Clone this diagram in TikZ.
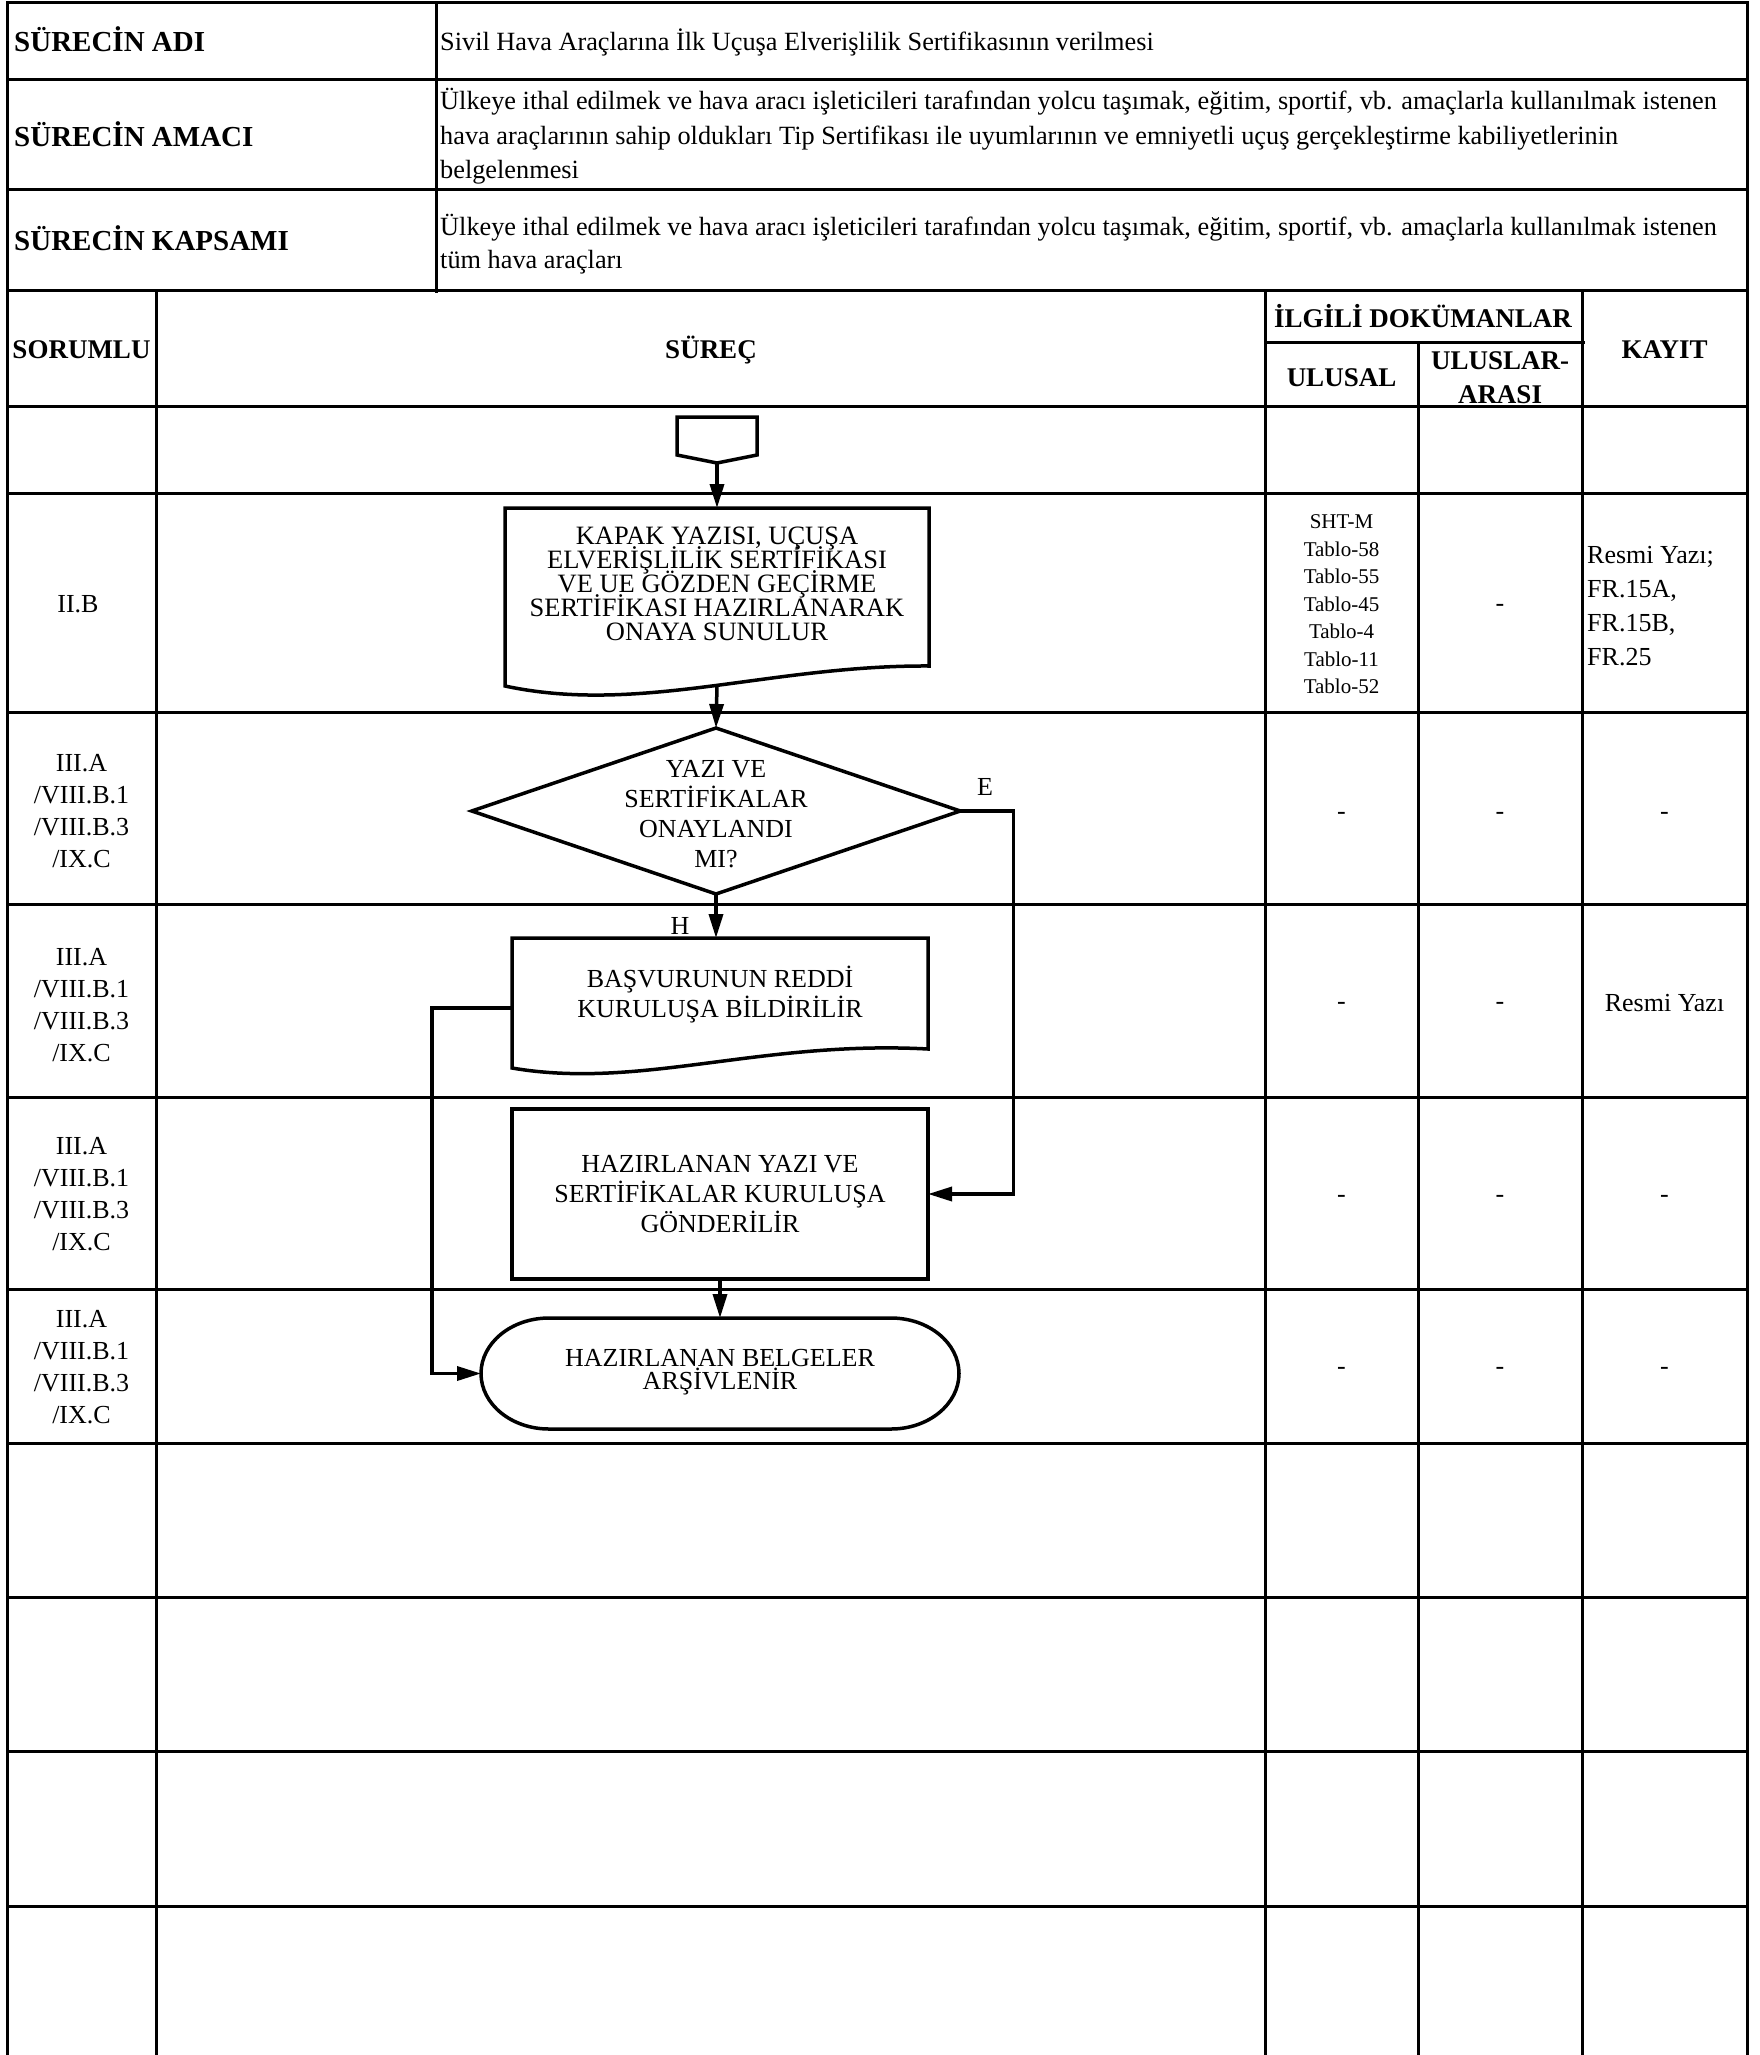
\documentclass[tikz,border=0pt]{standalone}
\usepackage{fontspec}
\setmainfont{Liberation Serif}
\usetikzlibrary{arrows.meta,shapes.geometric}
\begin{document}
\setlength{\lineskiplimit}{-100pt}
\begin{tikzpicture}[x=1pt,y=-1pt,
 grid/.style={line width=3pt},
 flow/.style={line width=3.5pt,line join=miter},
 arr/.style={line width=3.5pt,-{Triangle[length=24pt,width=14pt]}},
 tx/.style={inner sep=0pt,align=center,font=\fontsize{26}{30}\selectfont},
 hd/.style={inner sep=0pt,anchor=base,font=\bfseries\fontsize{27}{33}\selectfont},
 big/.style={inner sep=0pt,anchor=base west,font=\bfseries\fontsize{29}{34}\selectfont},
 body/.style={inner sep=0pt,anchor=base west,font=\fontsize{26.3}{34}\selectfont},
 lab/.style={inner sep=0pt,align=center,font=\fontsize{26}{32}\selectfont},
 bare/.style={inner sep=0pt,outer sep=0pt}]

\useasboundingbox (0,0) rectangle (1760,2055);

% ---- top header texts
\node[big] (hAdi) at (14,52) {SÜRECİN ADI};
\node[big] (hAmac) at (14,146.5) {SÜRECİN AMACI};
\node[big] (hKaps) at (14,250.5) {SÜRECİN KAPSAMI};
\node[body] (tAdi) at (440,51) {Sivil Hava Araçlarına İlk Uçuşa Elverişlilik Sertifikasının verilmesi};
\node[body] (tAm1) at (440,110) {Ülkeye ithal edilmek ve hava aracı işleticileri tarafından yolcu taşımak, eğitim, sportif, vb. amaçlarla kullanılmak istenen};
\node[body] (tAm2) at (440,145) {hava araçlarının sahip oldukları Tip Sertifikası ile uyumlarının ve emniyetli uçuş gerçekleştirme kabiliyetlerinin};
\node[body] (tAm3) at (440,179) {belgelenmesi};
\node[body] (tKa1) at (440,235) {Ülkeye ithal edilmek ve hava aracı işleticileri tarafından yolcu taşımak, eğitim, sportif, vb. amaçlarla kullanılmak istenen};
\node[body] (tKa2) at (440,268) {tüm hava araçları};

% ---- table header
\node[hd] (hSor) at (81.5,358) {SORUMLU};
\node[hd] (hSur) at (711,358) {SÜREÇ};
\node[hd] (hIlg) at (1423,327) {İLGİLİ DOKÜMANLAR};
\node[hd] (hUl) at (1341.5,386) {ULUSAL};
\node[hd] (hUla1) at (1500,369) {ULUSLAR-};
\node[hd] (hUla2) at (1500,403) {ARASI};
\node[hd] (hKay) at (1664.5,358) {KAYIT};

% ---- responsible column
\node[lab] (r1) at (78,604) {II.B};
\node[lab] (r2) at (81.5,811) {III.A\\/VIII.B.1\\/VIII.B.3\\/IX.C};
\node[lab] (r3) at (81.5,1005) {III.A\\/VIII.B.1\\/VIII.B.3\\/IX.C};
\node[lab] (r4) at (81.5,1194) {III.A\\/VIII.B.1\\/VIII.B.3\\/IX.C};
\node[lab] (r5) at (81.5,1367) {III.A\\/VIII.B.1\\/VIII.B.3\\/IX.C};

% ---- documents / records
\node[inner sep=0pt,align=center,font=\fontsize{21}{27.5}\selectfont] (u1) at (1341.5,604.5) {SHT-M\\Tablo-58\\Tablo-55\\Tablo-45\\Tablo-4\\Tablo-11\\Tablo-52};
\node[tx] (i1) at (1500,608) {-};
\node[inner sep=0pt,align=left,anchor=west,font=\fontsize{26}{34}\selectfont] (k1) at (1587,606) {Resmi Yazı;\\FR.15A,\\FR.15B,\\FR.25};

\node[tx] (u2) at (1341.5,816) {-};
\node[tx] (i2) at (1500,816) {-};
\node[tx] (k2) at (1664.5,816) {-};
\node[tx] (u3) at (1341.5,1006) {-};
\node[tx] (i3) at (1500,1006) {-};
\node[tx] (k3) at (1664.5,1003) {Resmi Yazı};
\node[tx] (u4) at (1341.5,1199) {-};
\node[tx] (i4) at (1500,1199) {-};
\node[tx] (k4) at (1664.5,1199) {-};
\node[tx] (u5) at (1341.5,1371) {-};
\node[tx] (i5) at (1500,1371) {-};
\node[tx] (k5) at (1664.5,1371) {-};

% ---- flowchart shapes
\coordinate (st) at (717,463);
\draw[flow] (st) -- (677,455) -- (677,417) -- (757,417) -- (757,455) -- cycle;

\node[bare,minimum width=424pt,minimum height=179pt] (b1) at (717,597.5) {};
\draw[flow] (505,686) -- (505,508) -- (929,508) -- (929,666) .. controls (770,665) and (640,715) .. (505,686) -- cycle;
\node[tx,font=\fontsize{26.5}{24}\selectfont] (b1t) at (717,584) {KAPAK YAZISI, UÇUŞA\\ELVERİŞLİLİK SERTİFİKASI\\VE UE GÖZDEN GEÇİRME\\SERTİFİKASI HAZIRLANARAK\\ONAYA SUNULUR};
\coordinate (b1w) at (717,686);

\node[bare,diamond,draw,flow,minimum width=488.5pt,minimum height=166pt] (d) at (716,811) {};
\node[tx] (dt) at (716,814) {YAZI VE\\SERTİFİKALAR\\ONAYLANDI\\MI?};

\node[bare,minimum width=416pt,minimum height=130pt] (b2) at (720,1003) {};
\draw[flow] (512,1068) -- (512,938) -- (928,938) -- (928,1049) .. controls (760,1040) and (640,1090) .. (512,1068) -- cycle;
\node[tx] (b2t) at (720,995) {BAŞVURUNUN REDDİ\\KURULUŞA BİLDİRİLİR};

\node[tx,bare,draw,flow,minimum width=416pt,minimum height=170pt] (b3) at (720,1194) {HAZIRLANAN YAZI VE\\SERTİFİKALAR KURULUŞA\\GÖNDERİLİR};

\node[bare,minimum width=478pt,minimum height=111pt] (t) at (720,1373.5) {};
\draw[flow] (549,1318) -- (891,1318) arc[start angle=-90,end angle=90,x radius=68,y radius=55.5] -- (549,1429) arc[start angle=90,end angle=270,x radius=68,y radius=55.5] -- cycle;
\node[tx,font=\fontsize{26}{23.5}\selectfont] (tt) at (720,1372) {HAZIRLANAN BELGELER\\ARŞİVLENİR};

\node[tx] (eL) at (985,787) {E};
\node[tx] (hL) at (680,926) {H};

% ---- connectors
\draw[arr] (st) -- (b1.north);
\draw[arr] (b1w) -- (d.north);
\draw[arr] (d.south) -- (d.south |- b2.north);
\draw[arr] (d.east) -- ++(53,0) |- (b3.east);
\draw[arr] ([yshift=-5pt]b2.west) -- ++(-80,0) |- (t.west);
\draw[arr] (b3.south) -- (b3.south |- t.north);

% ---- grid
\draw[grid] (7,3) -- (1747,3);
\draw[grid] (7,1.5) -- (7,2055);
\draw[grid] (1747,1.5) -- (1747,2055);
\foreach \yy in {80,190,290,406,493,712,904,1097,1289,1443,1597,1751,1906}
  \draw[grid] (7,\yy) -- (1747,\yy);
\draw[grid] (436,3) -- (436,293);
\draw[grid] (156,290) -- (156,2055);
\draw[grid] (1265,290) -- (1265,2055);
\draw[grid] (1582,290) -- (1582,2055);
\draw[grid] (1418,342) -- (1418,2055);
\draw[grid] (1265,342) -- (1585,342);
\end{tikzpicture}
\end{document}
